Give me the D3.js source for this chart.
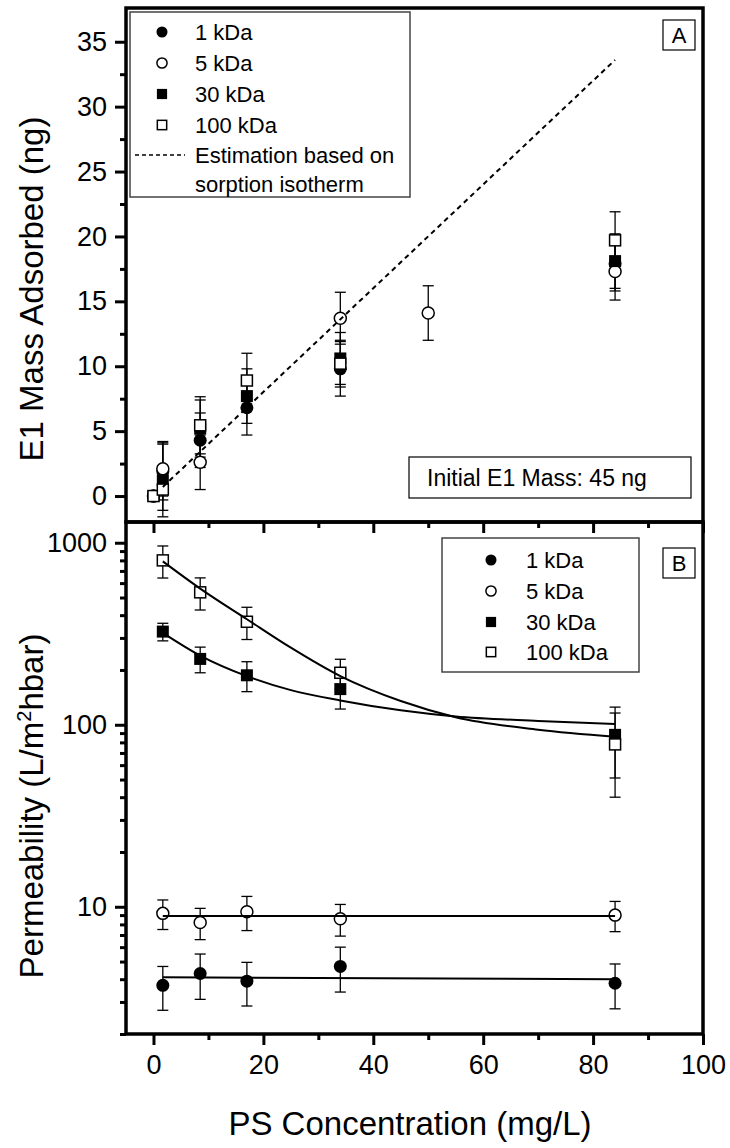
<!DOCTYPE html>
<html>
<head>
<meta charset="utf-8">
<script src="https://cdn.jsdelivr.net/npm/d3@7"></script>
<style>
  body { margin: 0; background: #fff; }
  svg { font-family: Arial, "Liberation Sans", Helvetica, sans-serif; }
  .tick text { font-size: 27px; fill: #000; }
  .tick line { stroke: #000; stroke-width: 3px; }
</style>
</head>
<body>
<script>
var width = 730,
    height = 1148

var series = ['1 kDa', '5 kDa', '30 kDa', '100 kDa']

// panel A: E1 mass adsorbed (ng)
var massX1 = [0, 1.7, 8.5, 17, 34, 84]
var massY1 = [0, 1.9, 4.3, 6.8, 9.8, 17.9]
var massE1 = [0, 2.2, 2.1, 2.1, 2.1, 2.1]

var massX5 = [0, 1.7, 8.5, 34, 50, 84]
var massY5 = [0, 2.1, 2.6, 13.7, 14.1, 17.3]
var massE5 = [0, 2.1, 2.1, 2.0, 2.1, 2.2]

var massX30 = [0, 1.7, 8.5, 17, 34, 84]
var massY30 = [0, 1.2, 5.2, 7.7, 10.6, 18.1]
var massE30 = [0, 2.8, 2.2, 2.1, 2.0, 2.1]

var massX100 = [0, 1.7, 8.5, 17, 34, 84]
var massY100 = [0, 0.5, 5.45, 8.9, 10.2, 19.7]
var massE100 = [0, 1.6, 2.2, 2.1, 1.8, 2.2]

var estX = [1.7, 84]
var estY = [0.7, 33.6]

// panel B: permeability (L/m2hbar)
var permX = [1.7, 8.5, 17, 34, 84]
var perm1 = [3.7, 4.3, 3.9, 4.7, 3.8]
var permE1 = [1.0, 1.2, 1.05, 1.3, 1.05]
var perm5 = [9.2, 8.2, 9.4, 8.6, 9.0]
var permE5 = [1.7, 1.6, 2.0, 1.7, 1.7]
var perm30 = [325, 230, 187, 157, 88]
var permE30 = [36, 37, 35, 35, 37]
var perm100 = [800, 534, 368, 193, 78]
var permE100 = [160, 107, 74, 36, 38]

var fitX = [1.7, 8.5, 17, 25, 34, 45, 55, 70, 84]
var fit30 = [320, 240, 185, 155, 136, 120, 111, 105, 101]
var fit100 = [790, 560, 380, 265, 185, 135, 110, 94, 86]
var flatX = [1.7, 84]
var fit1 = [4.1, 4.0]
var fit5 = [8.9, 8.9]

var xTicks = [0, 20, 40, 60, 80, 100]
var xMinor = [10, 30, 50, 70, 90]
var yTicksA = [0, 5, 10, 15, 20, 25, 30, 35]
var yMinorA = [2.5, 7.5, 12.5, 17.5, 22.5, 27.5, 32.5]
var yTicksB = [10, 100, 1000]
var yMinorB = [2, 3, 4, 5, 6, 7, 8, 9, 20, 30, 40, 50, 60, 70, 80, 90, 200, 300, 400, 500, 600, 700, 800, 900]

var left = 126, right = 703, topA = 8, mid = 522, bottom = 1034

var x = d3.scaleLinear().domain([-5, 100]).range([left, right])
var yA = d3.scaleLinear().domain([-2, 37.6]).range([mid, topA])
var yB = d3.scaleLog().domain([2, 1300]).range([bottom, mid])

var svg = d3.select('body').append('svg')
    .attr('width', width)
    .attr('height', height)

function zip(xs, ys, es) {
  return xs.map(function(d, i) { return {x: d, y: ys[i], e: es ? es[i] : 0} })
}

var massData = [
  zip(massX1, massY1, massE1),
  zip(massX5, massY5, massE5),
  zip(massX30, massY30, massE30),
  zip(massX100, massY100, massE100)
]
var permData = [
  zip(permX, perm1, permE1),
  zip(permX, perm5, permE5),
  zip(permX, perm30, permE30),
  zip(permX, perm100, permE100)
]

// marker drawing, i = series index
function marker(g, i, cx, cy, s) {
  s = s || 1
  if (i == 0) g.append('circle').attr('cx', cx).attr('cy', cy).attr('r', 6.5 * s).attr('fill', '#000')
  if (i == 1) g.append('circle').attr('cx', cx).attr('cy', cy).attr('r', 6 * s)
      .attr('fill', '#fff').attr('stroke', '#000').attr('stroke-width', 1.5)
  if (i == 2) g.append('rect').attr('x', cx - 6 * s).attr('y', cy - 6 * s)
      .attr('width', 12 * s).attr('height', 12 * s).attr('fill', '#000')
  if (i == 3) g.append('rect').attr('x', cx - 5.5 * s).attr('y', cy - 5.5 * s)
      .attr('width', 11 * s).attr('height', 11 * s)
      .attr('fill', '#fff').attr('stroke', '#000').attr('stroke-width', 1.5)
}

function errorBars(g, data, y) {
  data.forEach(function(d) {
    if (!d.e) return
    var x0 = x(d.x), y1 = y(d.y + d.e), y2 = y(d.y - d.e)
    g.append('line').attr('x1', x0).attr('x2', x0).attr('y1', y1).attr('y2', y2)
    g.append('line').attr('x1', x0 - 5.5).attr('x2', x0 + 5.5).attr('y1', y1).attr('y2', y1)
    g.append('line').attr('x1', x0 - 5.5).attr('x2', x0 + 5.5).attr('y1', y2).attr('y2', y2)
  })
}

function drawPanel(datasets, y) {
  var eg = svg.append('g').attr('stroke', '#000').attr('stroke-width', 1.3)
  datasets.forEach(function(data) { errorBars(eg, data, y) })
  var mg = svg.append('g')
  datasets.forEach(function(data, i) {
    data.forEach(function(d) { marker(mg, i, x(d.x), y(d.y)) })
  })
}

drawPanel(massData, yA)
drawPanel(permData, yB)

// estimation line
var lineA = d3.line().x(function(d) { return x(d.x) }).y(function(d) { return yA(d.y) })
svg.append('path')
    .datum(zip(estX, estY))
    .attr('d', lineA)
    .attr('fill', 'none').attr('stroke', '#000').attr('stroke-width', 2)
    .attr('stroke-dasharray', '5,4')

// fitted curves
var lineB = d3.line().x(function(d) { return x(d.x) }).y(function(d) { return yB(d.y) })
    .curve(d3.curveMonotoneX)
;[zip(fitX, fit30), zip(fitX, fit100), zip(flatX, fit1), zip(flatX, fit5)].forEach(function(c) {
  svg.append('path').datum(c).attr('d', lineB)
      .attr('fill', 'none').attr('stroke', '#000').attr('stroke-width', 2)
})

// axes
function styleAxis(g) {
  g.select('.domain').remove()
}

svg.append('g').attr('transform', 'translate(' + left + ',0)')
    .call(d3.axisLeft(yA).tickValues(yTicksA).tickSize(11).tickPadding(8))
    .call(styleAxis)
svg.append('g').attr('transform', 'translate(' + left + ',0)')
    .call(d3.axisLeft(yA).tickValues(yMinorA).tickSize(6).tickFormat(''))
    .call(styleAxis)

svg.append('g').attr('transform', 'translate(' + left + ',0)')
    .call(d3.axisLeft(yB).tickValues(yTicksB).tickSize(11).tickPadding(8).tickFormat(d3.format('d')))
    .call(styleAxis)
svg.append('g').attr('transform', 'translate(' + left + ',0)')
    .call(d3.axisLeft(yB).tickValues(yMinorB).tickSize(6).tickFormat(''))
    .call(styleAxis)

svg.append('g').attr('transform', 'translate(0,' + bottom + ')')
    .call(d3.axisBottom(x).tickValues(xTicks).tickSize(11).tickPadding(10))
    .call(styleAxis)
svg.append('g').attr('transform', 'translate(0,' + bottom + ')')
    .call(d3.axisBottom(x).tickValues(xMinor).tickSize(6).tickFormat(''))
    .call(styleAxis)

// panel A bottom ticks (no labels) pointing into panel B
svg.append('g').attr('transform', 'translate(0,' + mid + ')')
    .call(d3.axisBottom(x).tickValues(xTicks).tickSize(11).tickFormat(''))
    .call(styleAxis)
svg.append('g').attr('transform', 'translate(0,' + mid + ')')
    .call(d3.axisBottom(x).tickValues(xMinor).tickSize(6).tickFormat(''))
    .call(styleAxis)

// frames
svg.append('rect').attr('x', left).attr('y', topA).attr('width', right - left).attr('height', mid - topA)
    .attr('fill', 'none').attr('stroke', '#000').attr('stroke-width', 3.5)
svg.append('rect').attr('x', left).attr('y', mid).attr('width', right - left).attr('height', bottom - mid)
    .attr('fill', 'none').attr('stroke', '#000').attr('stroke-width', 3.5)

// axis titles
svg.append('text')
    .attr('transform', 'translate(43,289) rotate(-90)')
    .attr('text-anchor', 'middle')
    .style('font-size', '33px')
    .text('E1 Mass Adsorbed (ng)')

var tB = svg.append('text')
    .attr('transform', 'translate(43,806) rotate(-90)')
    .attr('text-anchor', 'middle')
    .style('font-size', '33px')
tB.append('tspan').text('Permeability (L/m')
tB.append('tspan').attr('dy', -12).style('font-size', '20px').text('2')
tB.append('tspan').attr('dy', 12).text('hbar)')

svg.append('text')
    .attr('x', 410).attr('y', 1135)
    .attr('text-anchor', 'middle')
    .style('font-size', '33px')
    .text('PS Concentration (mg/L)')

// legend A
var legA = svg.append('g')
legA.append('rect').attr('x', 130).attr('y', 12).attr('width', 280).attr('height', 185)
    .attr('fill', '#fff').attr('stroke', '#444').attr('stroke-width', 1.5)
var rowsA = [32, 63, 94, 125]
series.forEach(function(s, i) {
  marker(legA, i, 162, rowsA[i], 0.85)
  legA.append('text').attr('x', 195).attr('y', rowsA[i] + 8).style('font-size', '22px').text(s)
})
legA.append('line').attr('x1', 135).attr('x2', 185).attr('y1', 155).attr('y2', 155)
    .attr('stroke', '#000').attr('stroke-width', 1.5).attr('stroke-dasharray', '4,3')
legA.append('text').attr('x', 195).attr('y', 163).style('font-size', '22px').text('Estimation based on')
legA.append('text').attr('x', 195).attr('y', 192).style('font-size', '22px').text('sorption isotherm')

// legend B
var legB = svg.append('g')
legB.append('rect').attr('x', 442).attr('y', 538).attr('width', 197).attr('height', 134)
    .attr('fill', '#fff').attr('stroke', '#444').attr('stroke-width', 1.5)
var rowsB = [560, 591, 622, 652]
series.forEach(function(s, i) {
  marker(legB, i, 491, rowsB[i], 0.85)
  legB.append('text').attr('x', 526).attr('y', rowsB[i] + 8).style('font-size', '22px').text(s)
})

// panel letters
function letterBox(lbl, y0) {
  svg.append('rect').attr('x', 663).attr('y', y0).attr('width', 32).attr('height', 30)
      .attr('fill', '#fff').attr('stroke', '#000').attr('stroke-width', 1.2)
  svg.append('text').attr('x', 679).attr('y', y0 + 23).attr('text-anchor', 'middle')
      .style('font-size', '22px').text(lbl)
}
letterBox('A', 20)
letterBox('B', 548)

// initial mass note
svg.append('rect').attr('x', 409).attr('y', 457).attr('width', 282).attr('height', 41)
    .attr('fill', '#fff').attr('stroke', '#000').attr('stroke-width', 1.2)
svg.append('text').attr('x', 427).attr('y', 486).style('font-size', '23px').text('Initial E1 Mass: 45 ng')
</script>
</body>
</html>
